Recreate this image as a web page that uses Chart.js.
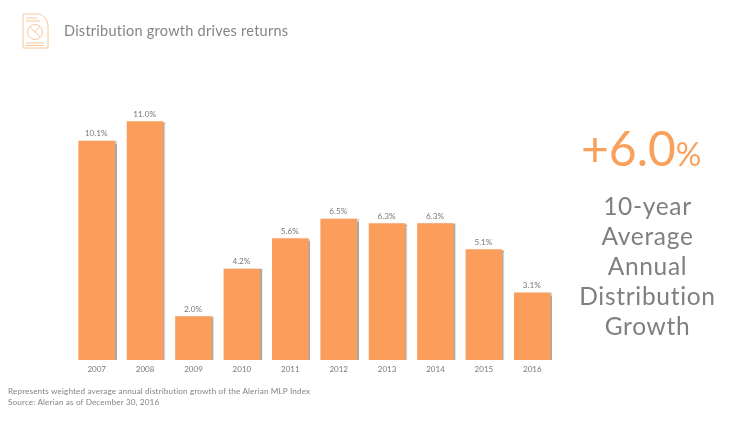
<!DOCTYPE html>
<html>
<head>
<meta charset="utf-8">
<script src="https://cdn.jsdelivr.net/npm/chart.js@4"></script>
<style>
  html, body { margin: 0; padding: 0; background: #fff; }
  body { position: relative; width: 750px; height: 422px; overflow: hidden; font-family: Lato, sans-serif; }
  canvas { position: absolute; left: 0; top: 0; }
  .title { position: absolute; left: 64px; top: 21px; font-size: 14.5px; line-height: 20px; letter-spacing: 0.25px; color: #858585; white-space: nowrap; }
  .note { position: absolute; left: 8px; top: 386px; font-size: 8.2px; line-height: 11px; letter-spacing: 0.12px; color: #858585; white-space: nowrap; }
  .big { position: absolute; left: 581px; top: 118px; font-size: 48px; line-height: 60px; color: #f9a15c; white-space: nowrap; }
  .big span { font-size: 32px; }
  .side { position: absolute; left: 570px; width: 155px; top: 191px; text-align: center; font-size: 24.5px; line-height: 30px; letter-spacing: 0.7px; color: #7f7f7f; }
  svg { position: absolute; left: 21px; top: 13px; }
</style>
</head>
<body>
<canvas id="growthChart" width="750" height="422"></canvas>
<svg width="30" height="37" viewBox="0 0 30 37" fill="none" stroke="#f8c79c" stroke-width="1">
  <path d="M2 1 H18 Q26 3 27 12 V35 H2 Z"/>
  <circle cx="14" cy="19" r="7.5"/>
  <path d="M9 14 L19 24 M14 19 L19 13"/>
  <path d="M5 5 H16 M5 8 H19 M5 30 H23 M5 32.5 H23"/>
</svg>
<div class="title">Distribution growth drives returns</div>
<div class="big">+6.0<span>%</span></div>
<div class="side">10-year<br>Average<br>Annual<br>Distribution<br>Growth</div>
<div class="note">Represents weighted average annual distribution growth of the Alerian MLP Index<br>Source: Alerian as of December 30, 2016</div>
<script>
const years = ['2007', '2008', '2009', '2010', '2011', '2012', '2013', '2014', '2015', '2016'];
const growth = [10.1, 11.0, 2.0, 4.2, 5.6, 6.5, 6.3, 6.3, 5.1, 3.1];

// grey edge on the right of each bar
const barShadow = {
  id: 'barShadow',
  beforeDatasetDraw(chart) {
    const ctx = chart.ctx;
    ctx.save();
    ctx.shadowColor = 'rgba(130, 130, 130, 0.7)';
    ctx.shadowOffsetX = 1.5;
    ctx.shadowOffsetY = 0.5;
    ctx.shadowBlur = 1;
  },
  afterDatasetDraw(chart) {
    chart.ctx.restore();
  },
};

const barLabels = {
  id: 'barLabels',
  afterDatasetsDraw(chart) {
    const ctx = chart.ctx;
    ctx.save();
    ctx.font = '8.2px Lato, sans-serif';
    ctx.fillStyle = '#7a7a7a';
    ctx.textAlign = 'center';
    ctx.textBaseline = 'alphabetic';
    chart.getDatasetMeta(0).data.forEach((bar, i) => {
      ctx.fillText(growth[i].toFixed(1) + '%', bar.x - 0.5, bar.y - 5);
    });
    ctx.restore();
  },
};

new Chart(document.getElementById('growthChart'), {
  type: 'bar',
  data: {
    labels: years,
    datasets: [{
      data: growth,
      backgroundColor: '#fc9e5b',
      barThickness: 36,
    }],
  },
  options: {
    responsive: false,
    animation: false,
    layout: { padding: { left: 72.5, right: 193.5, top: 100, bottom: 42 } },
    plugins: { legend: { display: false }, tooltip: { enabled: false } },
    scales: {
      x: {
        grid: { display: false, drawTicks: false },
        border: { display: false },
        afterFit: (axis) => { axis.height = 20; },
        ticks: { color: '#7a7a7a', font: { size: 8, family: 'Lato, sans-serif' }, padding: 5, maxRotation: 0 },
      },
      y: {
        display: false,
        min: 0,
        max: 12,
      },
    },
  },
  plugins: [barShadow, barLabels],
});
</script>
</body>
</html>
